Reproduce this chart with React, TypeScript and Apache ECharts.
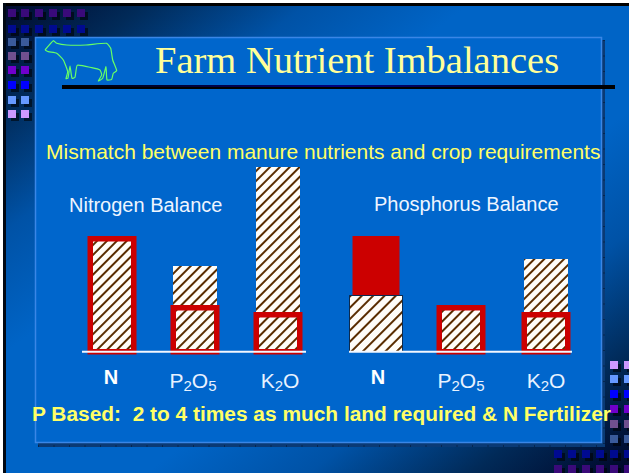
import React, { useEffect, useRef } from "react";
import * as echarts from "echarts";

const categories = ["N", "P2O5", "K2O"];
const nitrogenLabels = ["{bl|N}", "{t|P}{s|2}{t|O}{sr|5}", "{tl|K}{s|2}{t|O}"];
const phosphorusLabels = ["{br|N}", "{t|P}{s|2}{t|O}{s|5}", "{t|K}{s|2}{t|O}"];
const nitrogenManure = [114, 86, 185];
const nitrogenCrop = [118.5, 49.5, 42.5];
const phosphorusManureN = [57, null, null];
const phosphorusCropN = [116, null, null];
const phosphorusManure = [null, 44.5, 93];
const phosphorusCrop = [null, 49.5, 42.5];

const purpleDim = "#3a0a7a";
const navy = "#000a90";
const leftColumnColors = ["#3a5a9a", "#70508f", "#7000cc", "#0000ff", "#6699ff", "#cc99ff"];
const rightColumnColors = ["#cc99ff", "#6699ff", "#0000ff", "#7000cc", "#70508f", "#3a5a9a"];
const topXs = [8, 21, 35, 49, 63, 77];
const leftRows = [38, 52, 66, 81, 96, 110];
const rightRows = [361, 375, 390, 405, 420, 435];
const bottomXs = [554, 568, 582, 596, 610, 624];

const cowOutline = [
  [45, 50], [53.3, 40.7], [56.7, 43.3], [66.7, 45], [86, 45], [106.7, 43.3], [110.7, 48.3], [112.7, 60],
  [116.7, 70.7], [113.3, 73.3], [111.7, 79.3], [107, 80], [106, 66.7], [102.7, 78.3], [98.3, 81],
  [101.7, 75], [100, 70], [91.7, 67.7], [77.3, 65.3], [75, 77.3], [72, 78.3], [70, 66], [68, 78],
  [66, 78.7], [67.7, 71.7], [63.3, 60], [56.7, 53.3], [48.3, 51.7], [45, 50],
];

function squares(xs: number[], ys: number[], colors: string[]) {
  const out: any[] = [];
  ys.forEach((y, r) =>
    xs.forEach((x) => {
      out.push({ type: "rect", z: 1, shape: { x: x + 3, y: y + 3, width: 8, height: 8 }, style: { fill: "rgba(0,0,0,0.55)" } });
      out.push({ type: "rect", z: 1, shape: { x, y, width: 8, height: 8 }, style: { fill: colors[r] } });
    })
  );
  return out;
}

function label(text: string, x: number, y: number, font: string, fill: string, align = "left") {
  return { type: "text", z: 20, x, y, style: { text, font, fill, align, verticalAlign: "middle" } };
}

function hatch(line: number, gap: number) {
  return {
    symbol: "rect",
    symbolSize: 1,
    color: "#5a2d00",
    dashArrayX: [1, 0],
    dashArrayY: [line, gap],
    rotation: -Math.PI / 4,
  };
}

const SANS = '"Liberation Sans", Arial, sans-serif';
const boldLabel = { fontFamily: SANS, fontSize: 20, fontWeight: "bold", color: "#ffffff" };
const plainLabel = { fontFamily: SANS, fontSize: 21, color: "#e8f2ff" };
const subLabel = { fontFamily: SANS, fontSize: 15, color: "#e8f2ff" };
const axisRich = {
  bl: { ...boldLabel, padding: [0, 2, 5, 0] },
  br: { ...boldLabel, padding: [0, 0, 4, 4] },
  t: plainLabel,
  tl: { ...plainLabel, padding: [0, 0, 0, 4] },
  s: { ...subLabel, padding: [11, 0, 0, 0] },
  sr: { ...subLabel, padding: [11, 4, 0, 0] },
};

function xAxis(gridIndex: number, visible: boolean, labels: string[] = []) {
  return {
    type: "category",
    gridIndex,
    data: categories,
    show: visible,
    z: 10,
    axisLine: { show: false },
    axisTick: { show: false },
    axisLabel: {
      margin: 15,
      interval: 0,
      formatter: (_v: string, i: number) => labels[i],
      rich: axisRich,
    },
  };
}

function yAxis(gridIndex: number) {
  return { type: "value", gridIndex, min: 0, max: 192, show: false };
}

const App = () => {
  const ref = useRef<HTMLDivElement>(null);
  useEffect(() => {
    document.body.style.margin = "0";
    const chart = echarts.init(ref.current!, null, { renderer: "svg" });
    chart.setOption({
      animation: false,
      grid: [
        { left: 70.5, top: 160, width: 249, height: 192 },
        { left: 333.5, top: 160, width: 255, height: 192 },
        { left: 70.5, top: 162.5, width: 249, height: 192 },
        { left: 333.5, top: 162.5, width: 255, height: 192 },
      ],
      xAxis: [
        xAxis(0, true, nitrogenLabels),
        xAxis(1, true, phosphorusLabels),
        xAxis(1, false),
        xAxis(1, false),
        xAxis(2, false),
        xAxis(3, false),
      ],
      yAxis: [yAxis(0), yAxis(1), yAxis(2), yAxis(3)],
      series: [
        {
          name: "Nitrogen manure", type: "bar", xAxisIndex: 0, yAxisIndex: 0, barWidth: 44, z: 3,
          data: nitrogenManure, itemStyle: { color: "#fffdf8", decal: hatch(1.1, 4.6) },
        },
        {
          name: "Nitrogen crop", type: "bar", xAxisIndex: 4, yAxisIndex: 2, barWidth: 49, z: 4,
          data: nitrogenCrop, itemStyle: { color: "transparent", borderColor: "#cc0000", borderWidth: 5.5 },
        },
        {
          name: "Phosphorus manure", type: "bar", xAxisIndex: 1, yAxisIndex: 1, barWidth: 44, z: 3,
          data: phosphorusManure, itemStyle: { color: "#fffdf8", decal: hatch(1.1, 4.6) },
        },
        {
          name: "Phosphorus crop", type: "bar", xAxisIndex: 5, yAxisIndex: 3, barWidth: 49, z: 4,
          data: phosphorusCrop, itemStyle: { color: "transparent", borderColor: "#cc0000", borderWidth: 5.5 },
        },
        {
          name: "Phosphorus crop N", type: "bar", xAxisIndex: 2, yAxisIndex: 1, barWidth: 47, z: 3,
          data: phosphorusCropN, itemStyle: { color: "#cc0000" },
        },
        {
          name: "Phosphorus manure N", type: "bar", xAxisIndex: 3, yAxisIndex: 1, barWidth: 54, z: 4,
          data: phosphorusManureN,
          itemStyle: { color: "#fffdf8", borderColor: "#0a2a50", borderWidth: 1, decal: hatch(1.1, 6) },
        },
      ],
      graphic: [
        { type: "rect", z: 0, shape: { x: 0, y: 0, width: 629, height: 473 }, style: { fill: "#ffffff" } },
        {
          type: "rect", z: 0, shape: { x: 3, y: 3, width: 626, height: 470 },
          style: {
            fill: new echarts.graphic.LinearGradient(0, 0, 451, 601, [
              { offset: 0, color: "#00082a" },
              { offset: 0.12, color: "#012a58" },
              { offset: 0.25, color: "#0052a6" },
              { offset: 0.38, color: "#0064c6" },
              { offset: 0.62, color: "#0064c6" },
              { offset: 0.75, color: "#0052a6" },
              { offset: 0.88, color: "#012a58" },
              { offset: 1, color: "#00082a" },
            ], true),
          },
        },
        { type: "rect", z: 0, shape: { x: 3, y: 3, width: 626, height: 3 }, style: { fill: "#000000" } },
        { type: "rect", z: 0, shape: { x: 3, y: 3, width: 3, height: 470 }, style: { fill: "#000814" } },
        ...squares(topXs, [9], topXs.map(() => purpleDim)),
        ...squares(topXs, [25], topXs.map(() => navy)),
        ...squares(topXs.slice(0, 2), leftRows, leftColumnColors),
        ...squares(bottomXs.slice(4), rightRows, rightColumnColors),
        ...squares(bottomXs, [450], bottomXs.map(() => navy)),
        ...squares(bottomXs, [465], bottomXs.map(() => purpleDim)),
        { type: "rect", z: 1, shape: { x: 38, y: 40, width: 567, height: 407 }, style: { fill: "#0a3a75" } },
        { type: "line", z: 1, shape: { x1: 38, y1: 446, x2: 605, y2: 446 }, style: { stroke: "#06264f", lineWidth: 2, lineDash: [1, 14.5] } },
        { type: "line", z: 1, shape: { x1: 604, y1: 40, x2: 604, y2: 447 }, style: { stroke: "#06264f", lineWidth: 2, lineDash: [1, 14.5] } },
        { type: "rect", z: 1, shape: { x: 35.5, y: 37.5, width: 566, height: 405 }, style: { fill: "#0066cc", stroke: "#3a86e6", lineWidth: 1.5 } },
        { type: "polyline", z: 2, shape: { points: cowOutline, smooth: 0.15 }, style: { fill: "none", stroke: "#66ff66", lineWidth: 1.2 } },
        { type: "rect", z: 2, shape: { x: 62, y: 85, width: 553, height: 4 }, style: { fill: "#000000" } },
        {
          type: "rect", z: 2, shape: { x: 62, y: 85, width: 553, height: 2 },
          style: {
            fill: new echarts.graphic.LinearGradient(0, 0, 1, 0, [
              { offset: 0, color: "#000000" },
              { offset: 0.5, color: "#000080" },
              { offset: 1, color: "#000000" },
            ]),
          },
        },
        { type: "line", z: 20, shape: { x1: 82, y1: 351.8, x2: 306, y2: 351.8 }, style: { stroke: "#f2f7ff", lineWidth: 2 } },
        { type: "line", z: 20, shape: { x1: 349, y1: 351.8, x2: 572, y2: 351.8 }, style: { stroke: "#f2f7ff", lineWidth: 2 } },
        label("Farm Nutrient Imbalances", 155, 60, '38.5px "Liberation Serif", "Times New Roman", serif', "#ffff99"),
        label("Mismatch between manure nutrients and crop requirements", 46, 151.5, `21px ${SANS}`, "#ffff66"),
        label("Nitrogen Balance", 69, 205, `20px ${SANS}`, "#eef5ff"),
        label("Phosphorus Balance", 374, 204, `20px ${SANS}`, "#eef5ff"),
        label("P Based:  2 to 4 times as much land required & N Fertilizer", 32, 413.5, `bold 20.9px ${SANS}`, "#ffff66"),
      ],
    });
    return () => chart.dispose();
  }, []);
  return <div ref={ref} style={{ position: "absolute", left: 0, top: 0, width: 629, height: 473 }} />;
};

export default App;
